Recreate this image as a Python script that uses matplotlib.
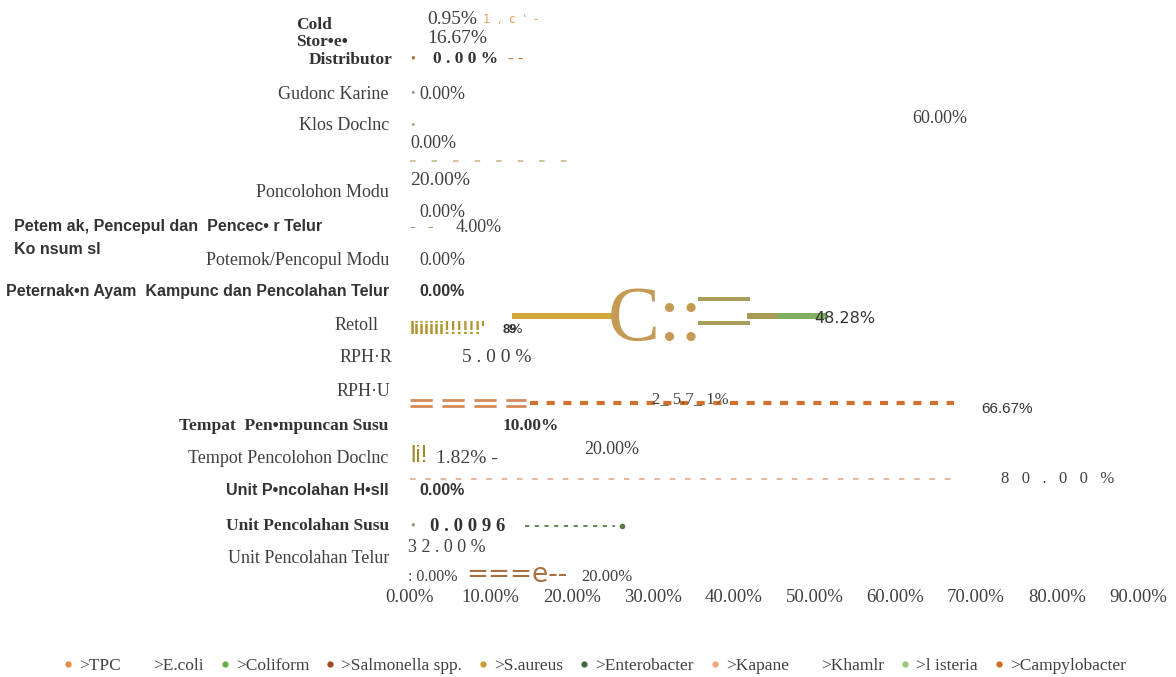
import matplotlib.pyplot as plt
from matplotlib.lines import Line2D

plt.rcParams['font.family'] = ['Liberation Serif', 'DejaVu Serif']
plt.rcParams['lines.scale_dashes'] = False
plt.rcParams['mathtext.fontset'] = 'custom'
plt.rcParams['mathtext.bf'] = 'Liberation Sans:bold'

# category labels, top to bottom (slot 4 has no label in the source)
categories = ['Cold\nStor•e•', 'Distributor', 'Gudonc Karine', 'Klos Doclnc', '',
              'Poncolohon Modu',
              'Petem ak, Pencepul dan  Pencec• r Telur\nKo nsum sl',
              'Potemok/Pencopul Modu',
              'Peternak•n Ayam  Kampunc dan Pencolahan Telur',
              'Retoll', 'RPH·R', 'RPH·U', 'Tempat  Pen•mpuncan Susu',
              'Tempot Pencolohon Doclnc', 'Unit P•ncolahan H•sll',
              'Unit Pencolahan Susu', 'Unit Pencolahan Telur']

series = ['>TPC', '>E.coli', '>Coliform', '>Salmonella spp.', '>S.aureus',
          '>Enterobacter', '>Kapane', '>Khamlr', '>l isteria', '>Campylobacter']
series_colors = ['#E8894A', '#FFFFFF', '#6AAE4A', '#9C4A22', '#C89A2A',
                 '#3E6A3A', '#F2A878', '#FFFFFF', '#9CC87A', '#D2691E']

xticks = [0, 10, 20, 30, 40, 50, 60, 70, 80, 90]

# value labels as they appear
value_labels = ['0.95%', '16.67%', '0 . 0 0 %', '0.00%', '0.00%', '60.00%', '20.00%',
                '0.00%', '4.00%', '0.00%', '0.00%', '48.28%', '5 . 0 0 %',
                '2_ 5.7_ 1%', '66.67%', '10.00%', '1.82% -', '20.00%',
                '8   0   .   0   0   %', '0.00%', '0 . 0 0 9 6', '3 2 . 0 0 %',
                ': 0.00%', '20.00%']
label_x = [2.1, 2.1, 2.8, 1.2, 0.0, 62.1, 0.0,
           1.2, 5.6, 1.2, 1.2, 50.0, 6.4,
           29.9, 70.6, 11.4, 3.2, 21.5,
           73.1, 1.2, 2.5, -0.2,
           -0.2, 21.2]
label_y = [-0.18, 0.39, 1.0, 2.05, 3.52, 2.77, 4.66,
           5.62, 6.05, 7.04, 8.0, 8.8, 9.98,
           11.22, 11.52, 12.03, 13.02, 12.75,
           13.62, 13.98, 15.04, 15.67,
           16.57, 16.57]
label_style = ['big', 'big', 'bold', 'norm', 'norm', 'norm', 'big',
               'norm', 'norm', 'norm', 'sansb', 'sans', 'big',
               'mid', 'cond', 'bold', 'big', 'norm',
               'mid', 'sansb', 'boldl', 'norm',
               'small', 'mid']

# retail bar segments (left, width) in %
retail_left = [12.6, 41.7, 45.4]
retail_width = [13.3, 3.7, 6.2]
retail_colors = ['#D0A935', '#A89A55', '#82AE62']

# dashed lines: row, start %, end %
line_row = [4.06, 11.34, 13.62, 15.04]
line_start = [0.0, 14.9, 0.0, 14.2]
line_end = [21.0, 67.3, 67.3, 25.3]

fig = plt.figure(figsize=(11.76, 6.77), dpi=100)
ax = fig.add_axes([0.3486, 0.1512, 0.6190, 0.835])
ax.set_xlim(0, 90)
ax.set_ylim(16.5, -0.5)
for s in ax.spines.values():
    s.set_visible(False)
ax.set_yticks([])
ax.set_xticks(xticks)
ax.set_xticklabels(['{:.2f}%'.format(v) for v in xticks], fontsize=13.5, color='#404040')
ax.tick_params(axis='x', length=0, pad=10)

# category label layout
cat_x = [-14.1, -2.2, -2.6, -2.6, -2.6, -2.6, -48.9, -2.6, -2.6, -3.9, -2.2, -2.4,
         -2.7, -2.7, -2.6, -2.6, -2.6]
cat_y = [0.22, 1.03, 2.05, 3.0, 4.0, 5.0, 6.38, 7.04, 8.0, 9.02, 9.98, 10.98,
         12.03, 13.02, 13.98, 15.04, 16.0]
cat_step = [0.52, 0, 0, 0, 0, 0, 0.69, 0, 0, 0, 0, 0, 0, 0, 0, 0, 0]
cat_style = ['bold', 'bold', 'norm', 'norm', 'norm', 'norm', 'sansb', 'norm', 'sansb',
             'norm', 'norm', 'norm', 'bold', 'norm', 'sansb', 'bold', 'norm']


def style_kw(st):
    if st == 'bold':
        return dict(fontsize=12.5, fontweight='bold', color='#333333')
    if st == 'boldl':
        return dict(fontsize=13.5, fontweight='bold', color='#333333')
    if st == 'sansb':
        return dict(fontsize=11.5, fontweight='bold', color='#333333',
                    family=['Liberation Sans', 'DejaVu Sans'])
    if st == 'sans':
        return dict(fontsize=11.5, color='#333333', family=['DejaVu Sans'])
    if st == 'big':
        return dict(fontsize=14, color='#404040')
    if st == 'mid':
        return dict(fontsize=12, color='#404040')
    if st == 'small':
        return dict(fontsize=11.5, color='#404040')
    if st == 'cond':
        return dict(fontsize=11, color='#333333',
                    family=['Liberation Sans Narrow', 'Liberation Sans'])
    return dict(fontsize=13, color='#404040')


# wrapped labels are drawn line by line, left aligned
for i, lab in enumerate(categories):
    lines = lab.split('\n')
    if len(lines) > 1:
        y0 = cat_y[i] - cat_step[i] * (len(lines) - 1) / 2
        for k, ln in enumerate(lines):
            ax.text(cat_x[i], y0 + k * cat_step[i], ln, ha='left', va='center',
                    clip_on=False, **style_kw(cat_style[i]))
    else:
        ha = 'left' if cat_x[i] < -10 else 'right'
        ax.text(cat_x[i], cat_y[i], lab, ha=ha, va='center', clip_on=False,
                **style_kw(cat_style[i]))

for i, t in enumerate(value_labels):
    ax.text(label_x[i], label_y[i], t, ha='left', va='center', clip_on=False,
            **style_kw(label_style[i]))

# retail bars and glyph fragments
ax.barh([8.72] * 3, retail_width, left=retail_left, height=0.18, color=retail_colors)
ax.barh([8.21, 8.93], [6.4, 6.4], left=[35.6, 35.6], height=0.12, color='#A89F5A')
ax.text(24.4, 9.45, 'C::', fontsize=56, color='#C49A55', ha='left', va='baseline')
ax.text(0.0, 9.14, "Iiiiiii!!!!!!'", fontsize=13, fontweight='bold', color='#B0952E',
        va='center', family=['Liberation Sans Narrow', 'Liberation Sans'])
ax.text(11.5, 9.14, r'$\mathbf{9}\!\!\!\!\!\!\mathbf{8}\%$', fontsize=9.5,
        color='#333333', va='center')

# dashed lines
ax.plot([line_start[0], line_end[0]], [line_row[0]] * 2, color='#C8B98A', lw=1.2,
        dashes=[4, 11.5])
ax.plot([line_start[1], line_end[1]], [line_row[1]] * 2, color='#D2702E', lw=3,
        dashes=[5.8, 6.2])
ax.plot([0, 14.4], [line_row[1] - 0.09] * 2, color='#D58A5A', lw=2, dashes=[16, 7])
ax.plot([0, 14.4], [line_row[1] + 0.09] * 2, color='#D58A5A', lw=2, dashes=[16, 7])
ax.plot([line_start[2], line_end[2]], [line_row[2]] * 2, color='#E0A080', lw=1.1,
        dashes=[4, 7])
ax.plot([line_start[3], line_end[3]], [line_row[3]] * 2, color='#5A7A40', lw=1.3,
        dashes=[3, 4])
ax.plot([line_end[3] + 0.9], [line_row[3]], 'o', color='#5A7A40', ms=3)

# small marks / fragments
ax.text(9.0, -0.18, '1  ,  c  \'  -', fontsize=8.5, color='#E0A060', va='center',
        family=['DejaVu Sans'])
ax.text(0.0, 1.0, '•', fontsize=10, color='#A0703A', va='center')
ax.text(12.1, 1.0, '- -', fontsize=12, fontweight='bold', color='#C87A40', va='center')
ax.text(0.0, 2.05, '•', fontsize=9, color='#999999', va='center')
ax.text(0.0, 3.0, '•', fontsize=9, color='#9AB08A', va='center')
ax.text(0.0, 6.05, '-   -', fontsize=12, color='#5A7A40', va='center')
ax.text(14.8, 9.98, '-', fontsize=12, color='#C8D890', va='center')
ax.text(0.0, 12.93, 'li!', fontsize=17, color='#A08828', va='center',
        family=['Liberation Sans Narrow', 'Liberation Sans'])
ax.text(0.0, 15.04, '•', fontsize=10, color='#8AA070', va='center')
ax.text(7.0, 16.5, '===e--', fontsize=19, color='#A87040', va='center',
        family=['DejaVu Sans'])

handles = [Line2D([], [], marker='o', ls='none', ms=3.5, color=c) for c in series_colors]
fig.legend(handles, series, loc='center', bbox_to_anchor=(0.5055, 1 - 666 / 677),
           ncol=10, frameon=False, handlelength=0.6, handletextpad=0.35,
           columnspacing=0.9, fontsize=12.5, labelcolor='#404040')

fig.savefig('out.png', dpi=100)
